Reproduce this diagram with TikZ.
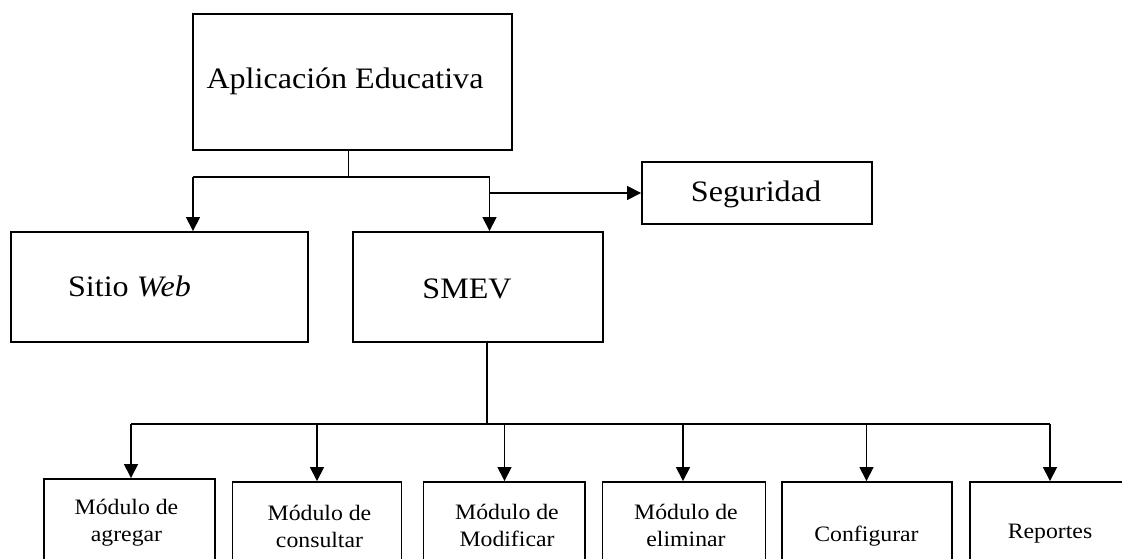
\documentclass[tikz,border=0pt]{standalone}
\usepackage{fontspec}
\setmainfont[FakeStretch=1.08]{Liberation Serif}
\usetikzlibrary{arrows.meta}
\begin{document}
\begin{tikzpicture}[x=1pt,y=-1pt,
  box/.style={draw, line width=1.9pt, inner sep=0pt, rectangle},
  conn/.style={line width=1.6pt},
  thinconn/.style={line width=1.2pt},
  arr/.style={conn, -{Triangle[width=14pt,length=14pt]}},
  big/.style={inner sep=0pt, font=\fontsize{29.7}{34}\selectfont},
  small/.style={inner sep=0pt, align=center, font=\fontsize{22}{27}\selectfont}]
\useasboundingbox (0,0) rectangle (1122,559);
\clip (0,0) rectangle (1122,559);
% boxes
\node[box, minimum width=319pt, minimum height=136pt] (top) at (352.5,82) {};
\node[box, minimum width=297pt, minimum height=110pt] (sitio) at (159.5,287) {};
\node[box, minimum width=250pt, minimum height=110pt] (smev) at (478,287) {};
\node[box, minimum width=230pt, minimum height=62pt] (seg) at (757,193) {};
\node[box, minimum width=171pt, minimum height=141pt] (b1) at (129.5,549.5) {};
\node[box, minimum width=169pt, minimum height=138pt] (b2) at (317,551) {};
\node[box, minimum width=161.5pt, minimum height=138pt] (b3) at (504.25,551) {};
\node[box, minimum width=163pt, minimum height=138pt] (b4) at (684,551) {};
\node[box, minimum width=170pt, minimum height=138pt] (b5) at (867,551) {};
\node[box, minimum width=170pt, minimum height=138pt] (b6) at (1055,551) {};
% texts
\node[big, anchor=base] (ttop) at (345,89) {Aplicación Educativa};
\node[big, anchor=base] (tsitio) at (129.5,296) {Sitio \textit{Web}};
\node[big, anchor=base] (tsmev) at (467,298) {SMEV};
\node[big, anchor=base] (tseg) at (756,201) {Seguridad};
\node[small, anchor=base] (t1) at (126.5,541) {Módulo de\\agregar};
\node[small, anchor=base] (t2) at (319.5,547) {Módulo de\\consultar};
\node[small, anchor=base] (t3) at (507,546) {Módulo de\\Modificar};
\node[small, anchor=base] (t4) at (686,546) {Módulo de\\eliminar};
\node[small, anchor=base] (t5) at (866.5,541) {Configurar};
\node[small, anchor=base] (t6) at (1050,538) {Reportes};
% junctions
\coordinate (j0) at (348.5,177);
\coordinate (jl) at (193,177);
\coordinate (jr) at (489.5,177);
\coordinate (js) at (489.5,193);
\coordinate (jb) at (487,424);
\coordinate (k1) at (131,424);
\coordinate (k2) at (317,424);
\coordinate (k3) at (504.5,424);
\coordinate (k4) at (683,424);
\coordinate (k5) at (866.5,424);
\coordinate (k6) at (1050,424);
% connectors
\draw[thinconn] (j0 |- top.south) -- (j0);
\draw[conn] (jl) -- (jr);
\draw[arr] (jl) -- (jl |- sitio.north);
\draw[arr] (jr) -- (jr |- smev.north);
\draw[arr] (js) -- (seg.west |- js);
\draw[thinconn] (jb |- smev.south) -- (jb);
\draw[conn] (k1) -- (k6);
\draw[arr] (k1) -- (k1 |- b1.north);
\draw[arr] (k2) -- (k2 |- b2.north);
\draw[arr] (k3) -- (k3 |- b3.north);
\draw[arr] (k4) -- (k4 |- b4.north);
\draw[arr] (k5) -- (k5 |- b5.north);
\draw[arr] (k6) -- (k6 |- b6.north);
\end{tikzpicture}
\end{document}
